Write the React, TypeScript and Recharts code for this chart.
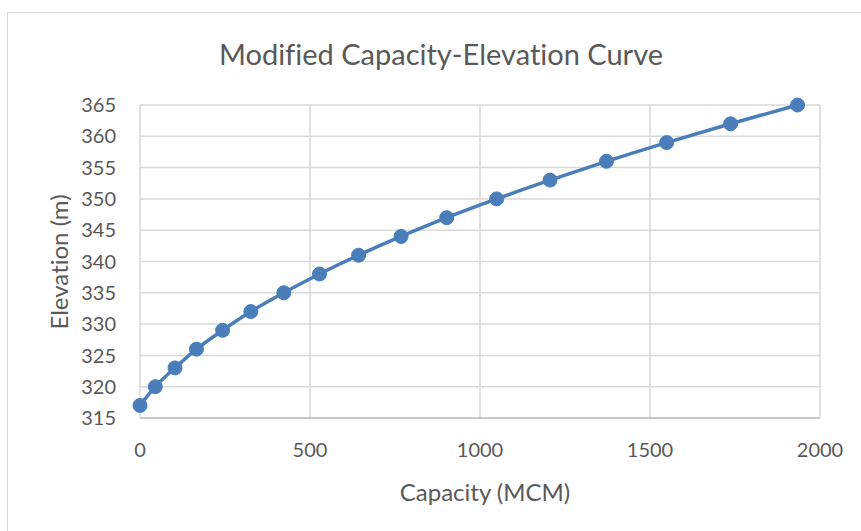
import { LineChart, Line, XAxis, YAxis, CartesianGrid } from "recharts";

const capacity = [0, 45, 103, 166, 243, 326, 423, 528, 643, 768, 902, 1049, 1206, 1372, 1549, 1737, 1934];
const elevation = [317, 320, 323, 326, 329, 332, 335, 338, 341, 344, 347, 350, 353, 356, 359, 362, 365];
const xTicks = [0, 500, 1000, 1500, 2000];
const yTicks = [315, 320, 325, 330, 335, 340, 345, 350, 355, 360, 365];

const data = capacity.map((c, i) => ({ capacity: c, elevation: elevation[i] }));

const font = "Lato, 'Open Sans', sans-serif";
const grey = "#595959";

export default function App() {
  return (
    <div
      style={{
        position: "absolute",
        left: 0,
        top: 0,
        width: 861,
        height: 531,
        background: "#fff",
        fontFamily: font,
        fontVariantLigatures: "none",
        overflow: "hidden",
      }}
    >
      <div
        style={{
          position: "absolute",
          left: 7,
          top: 12,
          width: 870,
          height: 540,
          border: "1.5px solid #d9d9d9",
        }}
      />
      <div
        style={{
          position: "absolute",
          left: 441,
          top: 53,
          transform: "translate(-50%, -50%)",
          fontSize: 29,
          color: grey,
          whiteSpace: "nowrap",
        }}
      >
        Modified Capacity-Elevation Curve
      </div>
      <div
        style={{
          position: "absolute",
          left: 485,
          top: 491,
          transform: "translate(-50%, -50%)",
          fontSize: 24,
          color: grey,
          whiteSpace: "nowrap",
        }}
      >
        Capacity (MCM)
      </div>
      <div
        style={{
          position: "absolute",
          left: 58,
          top: 262,
          transform: "translate(-50%, -50%) rotate(-90deg)",
          fontSize: 24,
          color: grey,
          whiteSpace: "nowrap",
        }}
      >
        Elevation (m)
      </div>
      <div style={{ position: "absolute", left: 0, top: 0 }}>
        <LineChart
          width={861}
          height={531}
          data={data}
          margin={{ top: 105, right: 41, bottom: 73, left: 80 }}
        >
          <CartesianGrid stroke="#d9d9d9" strokeWidth={1.5} />
          <XAxis
            dataKey="capacity"
            type="number"
            domain={[0, 2000]}
            ticks={xTicks}
            height={40}
            tickLine={false}
            axisLine={{ stroke: "#bfbfbf", strokeWidth: 1.5 }}
            tick={{ fill: grey, fontSize: 20, fontFamily: font }}
            tickMargin={19}
          />
          <YAxis
            dataKey="elevation"
            type="number"
            domain={[315, 365]}
            ticks={yTicks}
            width={60}
            tickLine={false}
            axisLine={false}
            tick={{ fill: grey, fontSize: 20, fontFamily: font }}
            tickMargin={18}
          />
          <Line
            type="monotone"
            dataKey="elevation"
            stroke="#4a7ebb"
            strokeWidth={3.5}
            dot={{ r: 7, fill: "#4a7ebb", stroke: "#4a7ebb", strokeWidth: 1 }}
            isAnimationActive={false}
          />
        </LineChart>
      </div>
    </div>
  );
}
